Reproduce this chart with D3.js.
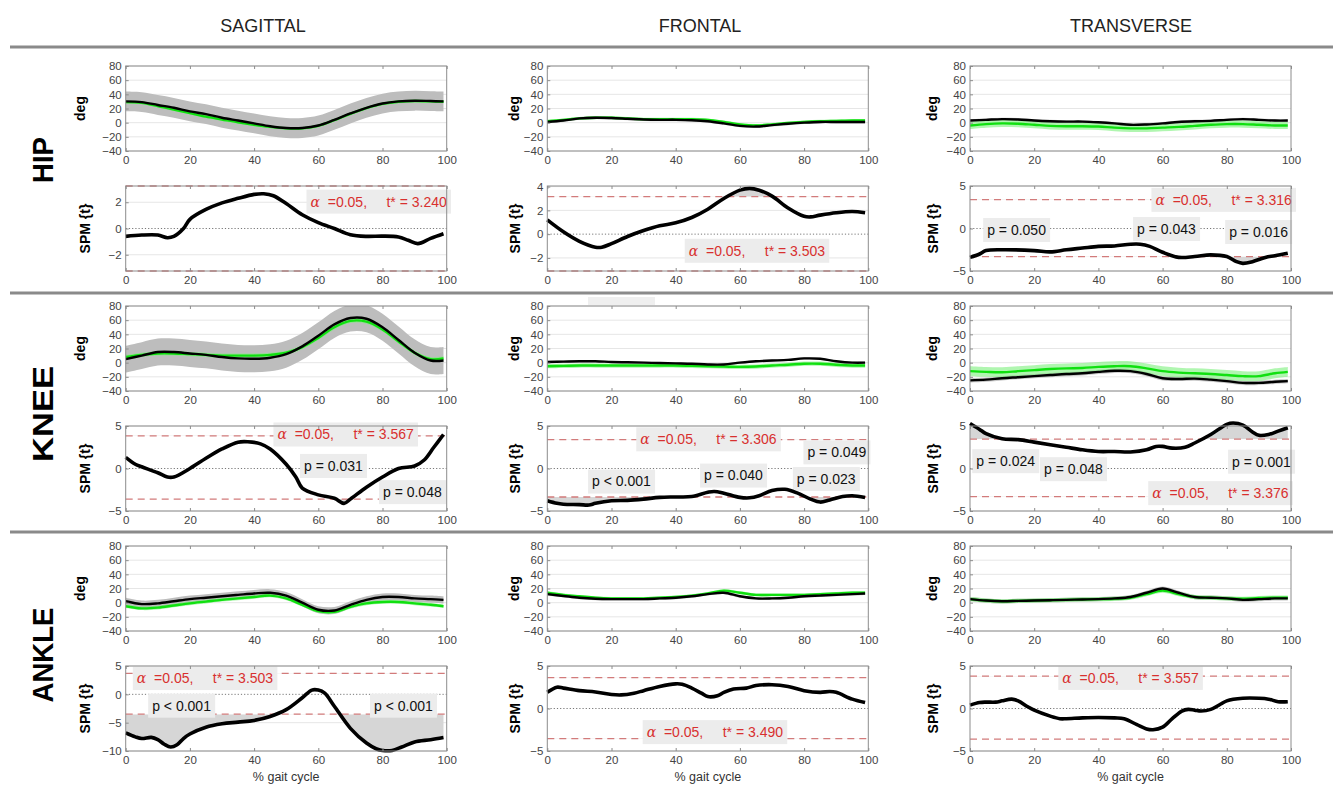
<!DOCTYPE html>
<html>
<head>
<meta charset="utf-8">
<title>SPM gait kinematics</title>
<script src="https://cdn.jsdelivr.net/npm/d3@7"></script>
<style>
  body { margin: 0; background: #fff; }
  text { font-family: Arial, "Liberation Sans", sans-serif; }
</style>
</head>
<body>
<script>
// ---------- data ----------
const planes = ["SAGITTAL", "FRONTAL", "TRANSVERSE"];
const joints = ["HIP", "KNEE", "ANKLE"];
const gait = [0, 5, 10, 15, 20, 25, 30, 35, 40, 45, 50, 55, 60, 65, 70, 75, 80, 85, 90, 95, 99];
const xTicks = [0, 20, 40, 60, 80, 100];
const degTicks = [-40, -20, 0, 20, 40, 60, 80];

// joint angles (deg): black = reference group, green = other group
const hipSagBlack = [30, 29, 25, 21, 16, 12, 7, 3, -1, -5, -7.5, -7.5, -4, 4, 13, 21, 27, 30, 31, 30.5, 30];
const hipSagGreen = [29, 28, 23.5, 18.5, 13.5, 8.5, 4.5, 0.5, -3, -6, -8, -8, -4.5, 3.5, 12.5, 20.5, 26.5, 29.5, 30.5, 30, 29.5];
const hipFroBlack = [1, 3, 6, 7, 6.5, 5.5, 4.5, 4, 4, 3.5, 2, -1, -4.5, -5.5, -3.5, -1.5, 0, 1, 1, 1, 1];
const hipFroGreen = [2, 4, 6, 7, 7, 6, 5, 5, 5, 5, 4, 1, -2.5, -4, -2.5, -0.5, 1, 2, 2.5, 3, 3];
const hipTraBlack = [3, 4, 5, 4.5, 3, 2, 1.5, 1.5, 0.5, -1, -3, -2.5, -1, 1, 2, 2.5, 4, 5, 4, 3, 3];
const hipTraGreen = [-4, -2, -1, -1.5, -3, -4.5, -5, -5, -5.5, -7, -8, -8, -7, -6, -4.5, -3, -2, -2, -3, -4, -4];

const kneeSagBlack = [5, 10, 15, 15, 13, 11, 8, 6, 5.5, 7, 12, 23, 38, 54, 63, 62, 50, 32, 14, 3, 3];
const kneeSagGreen = [8, 11, 13, 13, 12, 11, 10, 10, 10, 11, 14, 22, 35, 50, 59, 58, 47, 30, 14, 5, 6];
const kneeFroBlack = [1, 1.5, 2, 2, 1, 0.5, 0, -0.5, -1, -1.5, -2.5, -2.5, 0, 2, 3, 4, 6, 5.5, 2, 0, 0];
const kneeFroGreen = [-5, -4.5, -4, -4, -4, -4, -4, -4, -4, -4.5, -5, -5.5, -6, -5.5, -4, -3, -1.5, -1.5, -3, -4, -4];
const kneeTraBlack = [-25, -24, -22, -20.5, -19, -17.5, -16, -15, -13, -11.5, -12, -16, -22, -23, -22.5, -24, -26, -28.5, -28.5, -27, -26];
const kneeTraGreen = [-12, -13, -13.5, -12, -10.5, -9, -8, -7.5, -6, -5, -5, -8, -12, -14, -15, -16, -17.5, -19, -19, -15, -13];

const ankleSagBlack = [2, -2, -1, 2, 5, 7, 9, 11, 13, 14, 10, 0, -10, -11, -3, 4, 8, 8, 6, 5, 4];
const ankleSagGreen = [-5, -8, -7, -4, -1, 1.5, 4, 6, 8, 10, 6, -3, -12, -13, -6, -1, 1, 1, -1, -3, -5];
const ankleFroBlack = [12, 9.5, 7, 5.5, 5, 5, 5, 6, 7, 9, 12, 14, 9, 6, 6, 7, 9, 10, 11, 12, 13];
const ankleFroGreen = [14, 11, 9, 7, 6, 6, 6, 7, 8, 10, 13, 17, 14, 11, 11, 11, 11, 12, 13, 14, 14];
const ankleTraBlack = [5, 3, 2, 2.5, 3, 3.5, 4, 4.5, 5, 6, 8, 14, 20, 14, 8, 7, 6, 4, 5, 6, 6];
const ankleTraGreen = [5, 3, 2, 2.5, 3, 3.5, 4, 4.5, 5, 5.5, 7, 12, 17, 12, 8, 7, 6, 5.5, 6.5, 7, 7];

// standard deviations of the two groups (deg), per row / column
const blackSD = [[14, 2, 2], [19, 1.5, 3], [5, 2, 3]];
const greenSD = [[2, 2, 5], [3, 3, 7], [2.5, 2, 3]];

// SPM{t} curves: [% gait cycle, t]
const hipSagSpm = [[0,-0.6],[5,-0.5],[10,-0.5],[13,-0.7],[15,-0.6],[18,0],[20,0.7],[25,1.45],[30,1.95],[35,2.3],[40,2.6],[43,2.65],[46,2.5],[50,1.9],[55,1.05],[60,0.45],[65,0],[70,-0.47],[75,-0.6],[80,-0.58],[85,-0.65],[88,-0.9],[91,-1.15],[95,-0.75],[99,-0.4]];
const hipFroSpm = [[0,1.2],[5,0.2],[10,-0.6],[15,-1.1],[17,-1.1],[20,-0.8],[25,-0.2],[30,0.3],[35,0.7],[40,0.95],[45,1.4],[50,2.1],[55,3.0],[60,3.7],[63,3.85],[66,3.7],[70,3.2],[75,2.2],[80,1.5],[82,1.45],[85,1.6],[90,1.8],[95,1.9],[99,1.8]];
const hipTraSpm = [[0,-3.4],[3,-3.0],[5,-2.6],[10,-2.5],[20,-2.6],[25,-2.75],[30,-2.5],[35,-2.3],[40,-2.1],[45,-2.05],[50,-1.85],[53,-1.85],[56,-2.1],[60,-2.8],[65,-3.4],[70,-3.3],[75,-3.1],[80,-3.3],[83,-3.9],[85,-4.1],[88,-3.9],[92,-3.4],[95,-3.2],[99,-2.9]];
const kneeSagSpm = [[0,1.3],[3,0.5],[5,0.2],[10,-0.5],[13,-1.0],[15,-1.0],[20,0],[25,1.2],[30,2.3],[35,3.1],[38,3.15],[42,2.9],[45,2.3],[50,0.5],[53,-1.0],[55,-2.3],[60,-3.1],[65,-3.5],[68,-4.1],[70,-3.6],[75,-2.2],[80,-1.0],[85,0],[90,0.3],[93,1.0],[96,2.5],[99,4.0]];
const kneeFroSpm = [[0,-3.8],[3,-4.1],[5,-4.2],[10,-4.25],[13,-4.3],[15,-4.1],[20,-3.8],[25,-3.75],[30,-3.6],[35,-3.4],[40,-3.35],[45,-3.3],[50,-2.8],[52,-2.7],[55,-2.9],[60,-3.4],[63,-3.45],[66,-3.2],[70,-2.6],[74,-2.45],[78,-2.9],[82,-3.6],[85,-3.95],[88,-3.7],[92,-3.3],[95,-3.2],[99,-3.4]];
const kneeTraSpm = [[0,5.3],[3,4.6],[5,4.1],[10,3.5],[15,3.4],[20,3.1],[25,2.8],[30,2.5],[35,2.2],[40,2.0],[45,2.0],[50,1.95],[55,2.2],[58,2.6],[60,2.6],[63,2.4],[67,2.5],[70,3.0],[75,4.0],[80,5.2],[82,5.35],[85,5.1],[88,4.3],[90,3.9],[93,4.0],[96,4.4],[99,4.8]];
const ankleSagSpm = [[0,-6.8],[3,-7.5],[5,-7.8],[8,-7.6],[10,-8.0],[12,-8.8],[14,-9.3],[16,-8.9],[18,-7.8],[20,-7.0],[25,-5.8],[30,-5.2],[35,-4.9],[40,-4.6],[45,-3.9],[50,-2.7],[55,-0.6],[58,0.75],[60,0.75],[62,0.2],[65,-2.1],[70,-6.0],[75,-8.6],[78,-9.6],[80,-9.9],[83,-9.9],[86,-9.3],[90,-8.4],[95,-8.0],[99,-7.6]];
const ankleFroSpm = [[0,1.9],[3,2.5],[5,2.4],[10,2.1],[15,1.95],[20,1.65],[23,1.6],[27,1.8],[30,2.1],[35,2.6],[40,2.9],[42,2.85],[45,2.4],[48,1.8],[50,1.4],[53,1.5],[55,1.9],[58,2.3],[62,2.4],[65,2.7],[70,2.8],[75,2.6],[80,2.1],[85,1.9],[88,2.0],[90,1.9],[95,1.1],[99,0.7]];
const ankleTraSpm = [[0,0.4],[3,0.7],[5,0.75],[8,0.75],[10,0.9],[13,1.1],[15,0.9],[18,0.2],[20,-0.2],[25,-0.9],[28,-1.2],[30,-1.2],[35,-1.1],[40,-1.05],[45,-1.1],[48,-1.2],[52,-1.9],[55,-2.4],[57,-2.5],[60,-2.2],[63,-1.2],[66,-0.3],[68,-0.1],[70,-0.2],[72,-0.3],[75,-0.1],[78,0.5],[80,0.9],[85,1.2],[90,1.2],[93,1.1],[96,0.8],[99,0.8]];

// SPM y limits / ticks and critical thresholds (as drawn)
const spmDomain = [[[-3.24, 3.24], [-3.1, 4.05], [-5, 5]], [[-5, 5], [-5, 5], [-5, 5]], [[-10, 5], [-5, 5], [-5, 5]]];
const spmTicks = [[[-2, 0, 2], [-2, 0, 2, 4], [-5, 0, 5]], [[-5, 0, 5], [-5, 0, 5], [-5, 0, 5]], [[-10, -5, 0, 5], [-5, 0, 5], [-5, 0, 5]]];
const thrUpper = [[3.24, 3.15, 3.4], [3.85, 3.4, 3.45], [3.7, 3.63, 3.8]];
const thrLower = [[-3.24, -3.1, -3.3], [-3.6, -3.35, -3.3], [-3.5, -3.55, -3.6]];
const tStarText = [["3.240", "3.503", "3.316"], ["3.567", "3.306", "3.376"], ["3.503", "3.490", "3.557"]];
// centre of the alpha label, in [% gait, t]
const alphaAt = [[[78.8, 2.05], [65.3, -1.4], [79, 3.37]], [[68.5, 4.0], [50.2, 3.43], [78, -2.9]], [[24.7, 2.87], [52.2, -2.78], [50, 3.6]]];
// cluster p-values: [row, col, % gait, t, label]
const pLabels = [
  [0, 2, 14.5, -0.18, "p = 0.050"], [0, 2, 61.2, -0.06, "p = 0.043"], [0, 2, 89.9, -0.41, "p = 0.016"],
  [1, 0, 64.7, 0.3, "p = 0.031"], [1, 0, 89.3, -2.78, "p = 0.048"],
  [1, 1, 90.2, 1.9, "p = 0.049"], [1, 1, 23.1, -1.54, "p < 0.001"], [1, 1, 58, -0.83, "p = 0.040"], [1, 1, 86.9, -1.24, "p = 0.023"],
  [1, 2, 11.1, 0.86, "p = 0.024"], [1, 2, 32.2, -0.08, "p = 0.048"], [1, 2, 90.8, 0.8, "p = 0.001"],
  [2, 0, 17.4, -2.0, "p < 0.001"], [2, 0, 86.5, -2.0, "p < 0.001"]
];

const degBlack = [[hipSagBlack, hipFroBlack, hipTraBlack], [kneeSagBlack, kneeFroBlack, kneeTraBlack], [ankleSagBlack, ankleFroBlack, ankleTraBlack]];
const degGreen = [[hipSagGreen, hipFroGreen, hipTraGreen], [kneeSagGreen, kneeFroGreen, kneeTraGreen], [ankleSagGreen, ankleFroGreen, ankleTraGreen]];
const spm = [[hipSagSpm, hipFroSpm, hipTraSpm], [kneeSagSpm, kneeFroSpm, kneeTraSpm], [ankleSagSpm, ankleFroSpm, ankleTraSpm]];

// ---------- layout ----------
const W = 1343, H = 785;
const colX = [125.7, 547.3, 970];
const plotW = 321;
const rowY = [66, 306, 546];
const plotH = 85;
const spmGap = 120;
const titleX = [263, 700, 1131];
const degLabelOff = [46, 33, 38];
const spmLabelOff = [41, 32, 37];

const svg = d3.select("body").append("svg")
  .attr("width", W).attr("height", H);

// column titles
svg.selectAll("text.title")
  .data(planes)
  .enter().append("text")
  .attr("x", (d, i) => titleX[i])
  .attr("y", 32)
  .attr("text-anchor", "middle")
  .attr("font-size", 18)
  .attr("fill", "#222")
  .text(d => d);

// separators
[47, 293, 532].forEach(y => {
  svg.append("line").attr("x1", 10).attr("x2", 1333).attr("y1", y).attr("y2", y)
    .attr("stroke", "#8a8a8a").attr("stroke-width", 3);
});

// row labels
const rowCenter = [160, 414, 655];
const rowLen = [46, 96, 95];
joints.forEach((j, r) => {
  svg.append("text")
    .attr("transform", `translate(53,${rowCenter[r]}) rotate(-90)`)
    .attr("text-anchor", "middle")
    .attr("font-size", 30).attr("font-weight", "bold").attr("fill", "#000")
    .attr("textLength", rowLen[r]).attr("lengthAdjust", "spacingAndGlyphs")
    .text(j);
});

// stray annotation box above knee frontal
svg.append("rect").attr("x", 588).attr("y", 297).attr("width", 67).attr("height", 8).attr("fill", "#efefef");

const curve = d3.curveCatmullRom.alpha(0.5);
let clipId = 0;

function grid(g, y, yTicks, ox) {
  g.selectAll("line.grid").data(yTicks).enter().append("line")
    .attr("x1", ox).attr("x2", ox + plotW)
    .attr("y1", d => y(d)).attr("y2", d => y(d))
    .attr("stroke", "#e6e6e6").attr("stroke-width", 1);
}

function axes(g, x, y, yTicks, ox, oy) {
  g.append("rect").attr("x", ox).attr("y", oy).attr("width", plotW).attr("height", plotH)
    .attr("fill", "none").attr("stroke", "#8c8c8c").attr("stroke-width", 1);
  const xa = g.append("g").attr("transform", `translate(0,${oy + plotH})`)
    .call(d3.axisBottom(x).tickValues(xTicks).tickSize(-3).tickPadding(5));
  const xt = g.append("g").attr("transform", `translate(0,${oy})`)
    .call(d3.axisTop(x).tickValues(xTicks).tickSize(-3).tickFormat(""));
  const ya = g.append("g").attr("transform", `translate(${ox},0)`)
    .call(d3.axisLeft(y).tickValues(yTicks).tickSize(-3).tickPadding(4).tickFormat(d3.format("~g")));
  [xa, xt, ya].forEach(a => {
    a.select(".domain").remove();
    a.selectAll("line").attr("stroke", "#8c8c8c");
    a.selectAll("text").attr("fill", "#444").attr("font-size", 11.5)
      .attr("font-family", "Arial, 'Liberation Sans', sans-serif");
  });
}

function drawDeg(r, c) {
  const ox = colX[c], oy = rowY[r];
  const g = svg.append("g");
  const x = d3.scaleLinear().domain([0, 100]).range([ox, ox + plotW]);
  const y = d3.scaleLinear().domain([-40, 80]).range([oy + plotH, oy]);
  grid(g, y, degTicks, ox);

  const id = "clip" + (clipId++);
  svg.append("clipPath").attr("id", id).append("rect")
    .attr("x", ox).attr("y", oy).attr("width", plotW).attr("height", plotH);
  const inner = g.append("g").attr("clip-path", `url(#${id})`);

  const black = degBlack[r][c], green = degGreen[r][c];
  const sb = blackSD[r][c], sg = greenSD[r][c];
  const band = (arr, s) => d3.area().curve(curve)
    .x((d, i) => x(gait[i])).y0(d => y(d - s)).y1(d => y(d + s))(arr);
  const line = d3.line().curve(curve).x((d, i) => x(gait[i])).y(d => y(d));

  inner.append("path").attr("d", band(black, sb)).attr("fill", "#bdbdbd").attr("opacity", sb > 4 ? 1 : 0.85);
  inner.append("path").attr("d", band(green, sg)).attr("fill", "#7cf07c").attr("opacity", 0.6);
  inner.append("path").attr("d", line(green)).attr("fill", "none").attr("stroke", "#10e010").attr("stroke-width", 2.4);
  inner.append("path").attr("d", line(black)).attr("fill", "none").attr("stroke", "#000").attr("stroke-width", 2.4);

  axes(g, x, y, degTicks, ox, oy);
  g.append("text")
    .attr("transform", `translate(${ox - degLabelOff[c]},${oy + plotH / 2}) rotate(-90)`)
    .attr("text-anchor", "middle").attr("dy", "0.35em")
    .attr("font-size", 14).attr("font-weight", "bold").text("deg");
}

function labelBox(g, cx, cy, build) {
  const t = g.append("text").attr("x", cx).attr("y", cy).attr("dy", "0.35em")
    .attr("text-anchor", "middle").attr("font-size", 14).style("white-space", "pre");
  build(t);
  const bb = t.node().getBBox();
  g.insert("rect", () => t.node())
    .attr("x", bb.x - 4).attr("y", cy - 12).attr("width", bb.width + 8).attr("height", 24)
    .attr("fill", "#ececec");
}

function drawSpm(r, c) {
  const ox = colX[c], oy = rowY[r] + spmGap;
  const g = svg.append("g");
  const x = d3.scaleLinear().domain([0, 100]).range([ox, ox + plotW]);
  const y = d3.scaleLinear().domain(spmDomain[r][c]).range([oy + plotH, oy]);
  const ticks = spmTicks[r][c];
  grid(g, y, ticks.filter(d => d !== 0), ox);

  const data = spm[r][c];
  const up = thrUpper[r][c], lo = thrLower[r][c];

  // supra-threshold clusters
  [[up, oy, y(up) - oy], [lo, y(lo), oy + plotH - y(lo)]].forEach(([thr, cy, ch]) => {
    const id = "clip" + (clipId++);
    svg.append("clipPath").attr("id", id).append("rect")
      .attr("x", ox).attr("y", cy - (thr > 0 ? 20 : 0)).attr("width", plotW).attr("height", ch + 20);
    g.append("path").attr("clip-path", `url(#${id})`)
      .attr("d", d3.area().curve(curve).x(d => x(d[0])).y0(y(thr)).y1(d => y(d[1]))(data))
      .attr("fill", "#d6d6d6");
  });

  // zero line and thresholds
  g.append("line").attr("x1", ox).attr("x2", ox + plotW).attr("y1", y(0)).attr("y2", y(0))
    .attr("stroke", "#777").attr("stroke-width", 1).attr("stroke-dasharray", "1.2,2");
  [up, lo].forEach(thr => {
    g.append("line").attr("x1", ox).attr("x2", ox + plotW).attr("y1", y(thr)).attr("y2", y(thr))
      .attr("stroke", "#d27b7b").attr("stroke-width", 1.3).attr("stroke-dasharray", "7,5");
  });

  // labels
  const [ax, at] = alphaAt[r][c];
  labelBox(g, x(ax), y(at), t => {
    t.attr("fill", "#d8302f");
    t.append("tspan").attr("font-family", "'DejaVu Serif', 'Liberation Serif', serif")
      .attr("font-style", "italic").attr("font-size", 14).text("\u03b1");
    t.append("tspan").text("  =0.05,     t* = " + tStarText[r][c]);
  });
  pLabels.filter(p => p[0] === r && p[1] === c).forEach(p => {
    labelBox(g, x(p[2]), y(p[3]), t => t.attr("fill", "#111").text(p[4]));
  });

  g.append("path")
    .attr("d", d3.line().curve(curve).x(d => x(d[0])).y(d => y(d[1]))(data))
    .attr("fill", "none").attr("stroke", "#000").attr("stroke-width", 3.6)
    .attr("stroke-linejoin", "round");

  axes(g, x, y, ticks, ox, oy);
  g.append("text")
    .attr("transform", `translate(${ox - spmLabelOff[c]},${oy + plotH / 2}) rotate(-90)`)
    .attr("text-anchor", "middle").attr("dy", "0.35em")
    .attr("font-size", 14).attr("font-weight", "bold").text("SPM {t}");

  if (r === 2) {
    g.append("text").attr("x", ox + plotW / 2).attr("y", oy + plotH + 30)
      .attr("text-anchor", "middle").attr("font-size", 12.5).attr("fill", "#333")
      .text("% gait cycle");
  }
}

for (let r = 0; r < 3; r++) {
  for (let c = 0; c < 3; c++) {
    drawDeg(r, c);
    drawSpm(r, c);
  }
}
</script>
</body>
</html>
